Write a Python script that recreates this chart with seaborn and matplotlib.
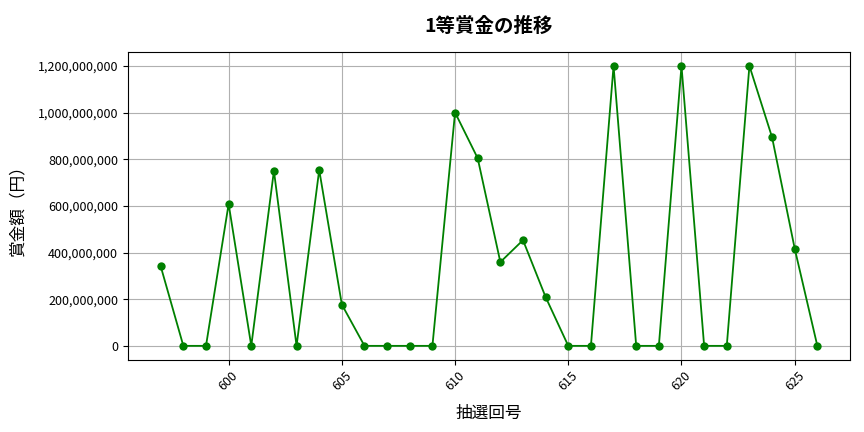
import matplotlib
matplotlib.use("Agg")
import matplotlib.pyplot as plt
import matplotlib.ticker as mticker
import seaborn as sns
import pandas as pd

draws = list(range(597, 627))
prizes = [
    341000000, 0, 0, 608000000, 0, 750000000, 0, 754000000, 177000000, 0,
    0, 0, 0, 1000000000, 804000000, 359000000, 453000000, 209000000, 0, 0,
    1200000000, 0, 0, 1200000000, 0, 0, 1200000000, 894000000, 417000000, 0,
]

df = pd.DataFrame({"draw": draws, "prize": prizes})

sns.set_style("white")
plt.rcParams['font.family'] = ['Noto Sans CJK JP', 'DejaVu Sans']
plt.rcParams['text.color'] = 'black'
plt.rcParams['axes.labelcolor'] = 'black'
plt.rcParams['xtick.color'] = 'black'
plt.rcParams['ytick.color'] = 'black'

fig, ax = plt.subplots(figsize=(8.64, 4.32), dpi=100)
sns.lineplot(data=df, x="draw", y="prize", color="green", marker="o",
             markersize=6, markeredgewidth=0, linewidth=1.3, ax=ax)

ax.set_title("1等賞金の推移", fontsize=14, fontweight="bold", pad=14)
ax.set_xlabel("抽選回号", fontsize=12, labelpad=8)
ax.set_ylabel("賞金額（円）", fontsize=12, labelpad=8)
ax.yaxis.set_major_formatter(mticker.FuncFormatter(lambda v, p: f"{int(v):,}"))
ax.grid(True, color="#b0b0b0", linewidth=0.8)
ax.tick_params(axis="x", rotation=45, labelsize=9)
ax.tick_params(axis="y", labelsize=9)
ax.tick_params(axis="both", length=3.5, width=0.8, color="black", direction="out", bottom=True, left=True)
for s in ax.spines.values():
    s.set_color("black")
    s.set_linewidth(0.8)

fig.subplots_adjust(left=0.148, right=0.984, top=0.88, bottom=0.167)
fig.savefig("out.png", dpi=100)
